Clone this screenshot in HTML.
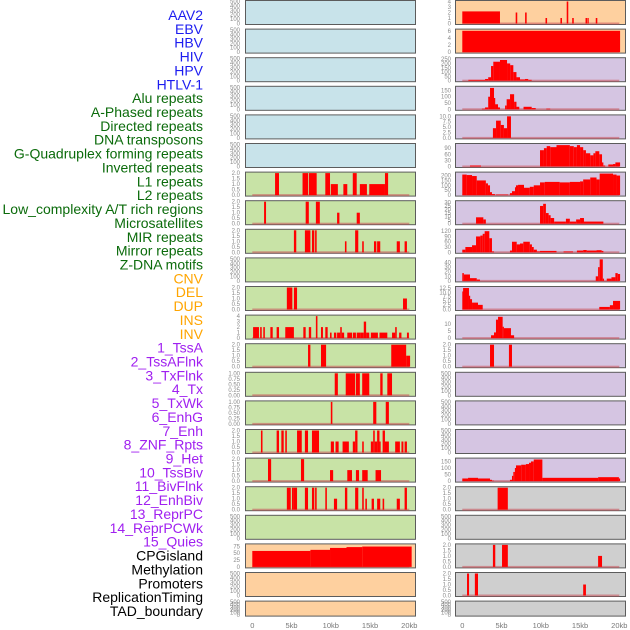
<!DOCTYPE html>
<html><head><meta charset="utf-8"><style>
html,body{margin:0;padding:0;background:#fff;}
svg{display:block;}
</style></head><body>
<svg id="chart" width="630" height="630" xmlns="http://www.w3.org/2000/svg"></svg>
<script>
const NS="http://www.w3.org/2000/svg";
const labelNames=["AAV2","EBV","HBV","HIV","HPV","HTLV-1","Alu repeats","A-Phased repeats","Directed repeats","DNA transposons","G-Quadruplex forming repeats","Inverted repeats","L1 repeats","L2 repeats","Low_complexity A/T rich regions","Microsatellites","MIR repeats","Mirror repeats","Z-DNA motifs","CNV","DEL","DUP","INS","INV","1_TssA","2_TssAFlnk","3_TxFlnk","4_Tx","5_TxWk","6_EnhG","7_Enh","8_ZNF_Rpts","9_Het","10_TssBiv","11_BivFlnk","12_EnhBiv","13_ReprPC","14_ReprPCWk","15_Quies","CPGisland","Methylation","Promoters","ReplicationTiming","TAD_boundary"];
const labelColors=["#1c1cf0","#0b6b0b","#ffa500","#a020f0","#000000"];
const labelGroups=[0,0,0,0,0,0,1,1,1,1,1,1,1,1,1,1,1,1,1,2,2,2,2,2,3,3,3,3,3,3,3,3,3,3,3,3,3,3,3,4,4,4,4,4];
const trackBg=["#c8e3ea","#c8e3a6","#fed09f","#d5c5e2","#cfcfcf"];
const trackGroups=[0,0,0,0,0,0,1,1,1,1,1,1,1,1,1,1,1,1,1,2,2,2,2,2,3,3,3,3,3,3,3,3,3,3,3,3,3,3,3,4,4,4,4,4];
const xTickValues=[0,5,10,15,20];
const xTickLabels=["0","5kb","10kb","15kb","20kb"];
const E=["0","100","200","300","400","500"], T2=["0.0","0.5","1.0","1.5","2.0"], T1=["0.00","0.25","0.50","0.75","1.00"];
const trackTicks=[E,E,E,E,E,E,T2,T2,T2,E,T2,["0","1","2","3","4"],T2,T1,T1,T2,T2,T2,E,["0","25","50","75"],E,E,
["0","1","2","3","4"],["0","2","4","6"],["0","50","100","150","200","250"],["0","50","100","150"],["0.0","2.5","5.0","7.5","10.0"],["0","30","60","90"],["0","50","100","150","200"],["0","5","10","15","20","25","30"],["0","30","60","90","120"],["0","10","20","30","40"],["0.0","2.5","5.0","7.5","10.0","12.5"],["0","5","10"],T2,E,E,E,["0","50","100","150"],T2,E,T2,T2,E];
const trackMax=[500,500,500,500,500,500,2,2,2,500,2,4,2,1,1,2,2,2,500,80,500,500,
4,6.2,255,175,10.2,108,225,31,125,48,12.8,15.5,2,500,500,500,168,2,500,2,2,500];
const trackSegs=[[],[],[],[],[],[],
[[2.9,3.4,2],[6.4,7.1,2],[7.2,8.2,2],[9.3,9.9,2],[10,10.9,1],[11.6,12.1,1],[12.8,13.3,2],[13.7,14.6,1],[14.9,16.9,1],[16.9,17.3,2]],
[[1.5,1.75,2],[6.8,7.2,2],[8.1,8.6,2],[10.8,11.1,1],[13.3,13.7,1]],
[[5.3,5.6,2],[6.7,7.4,2],[7.6,7.9,2],[8,8.2,2],[11.8,12,1],[13.1,13.5,2],[14,14.2,1],[15.5,15.8,1],[15.9,16.3,1],[18.4,18.8,1],[19.4,19.7,1]],
[],
[[4.4,5.1,2],[5.3,5.7,2],[19.2,19.7,1]],
[[0.1,0.85,2],[1,1.2,2],[1.4,1.6,2],[2.3,2.6,2],[3.1,3.4,2],[4.2,5.3,2],[6.5,6.8,2],[7.2,7.5,2],[8.1,8.3,4],[8.75,9,2],[9.3,9.6,2],[9.9,10.1,1],[10.4,10.7,1],[10.8,11.2,1],[11.2,11.4,2],[11.4,11.7,1],[12.1,12.7,1],[12.8,13.2,1],[13.3,13.8,1],[13.8,14.2,1],[14.2,14.5,3],[14.5,14.9,1],[15.1,16,1],[16.2,17.2,1],[17.8,18.2,1],[18.2,18.4,2],[18.7,19,1],[19.7,19.95,1]],
[[7.1,7.4,2],[8.75,9.4,2],[17.7,19.6,2],[19.6,20.1,1]],
[[10.5,10.9,1],[11.9,13.1,1],[13.2,13.7,1],[14,14.9,1],[16.3,16.6,1],[17.2,17.8,1]],
[[10,10.2,1],[15.4,15.8,1],[17,17.4,1]],
[[1.1,1.3,2],[3.1,3.4,2],[3.7,4,2],[4.2,4.4,2],[5.7,6.3,2],[6.7,7.1,2],[7.6,8.5,2],[10,10.4,1],[10.6,11,1],[11.5,12.3,1],[12.8,13.1,1],[13.1,13.4,2],[14,14.2,1],[15.1,15.4,1],[15.4,15.6,2],[15.6,15.9,1],[15.9,16.2,2],[16.2,16.3,1],[16.6,16.9,2],[16.9,17.4,1],[18.2,18.8,1],[19,19.25,1],[19.4,19.7,1]],
[[2,2.4,2],[6.2,6.6,2],[9.9,10.3,1],[12.1,12.7,1],[13.2,13.6,1],[14,14.7,1],[15.7,16.4,1]],
[[4.4,4.9,2],[5.05,5.3,2],[5.3,5.7,2],[6.7,7.1,2],[7.6,7.9,2],[8,8.2,2],[9.3,9.5,2],[10.4,10.8,1],[11.8,12.1,2],[13.1,13.5,2],[14,14.2,2],[14.4,14.6,1],[15.2,15.5,1],[15.9,16.3,1],[16.6,16.8,1],[18.4,18.8,1],[19.4,19.7,2]],
[],
[[0,7.4,58],[7.4,9.9,62],[9.9,12,69],[12,14,72],[14,20.3,74]],
[],[],
[[0,4.8,2.2],[6.8,7,2],[8,8.2,2],[10.6,10.8,1],[12.5,12.7,1],[13.3,13.5,4],[14,14.2,1],[15.7,15.9,1],[15.95,16.1,1],[17,17.2,1]],
[[0,20.1,6]],
[[0.77,2.9,10],[2.9,3.3,20],[3.3,3.66,40],[3.66,3.95,170],[3.95,4.8,220],[4.8,5.7,240],[5.7,6.1,200],[6.1,6.5,180],[6.5,6.9,100],[6.9,7.35,40],[7.35,7.99,15],[7.99,8.4,20],[8.4,8.84,10]],
[[2.5,2.9,5],[2.9,3.3,15],[3.3,3.53,100],[3.53,4.04,170],[4.04,4.17,90],[4.17,4.55,40],[4.55,4.8,15],[5.45,5.65,30],[5.65,6.08,80],[6.08,6.6,120],[6.6,6.9,60],[6.9,7.26,20],[7.8,8.84,20],[8.84,9.35,10],[10.7,11.2,5]],
[[3.9,4.3,4.5],[4.3,4.9,8],[4.9,5.3,6],[5.3,5.7,4.5],[5.7,6.2,10]],
[[0.98,2.38,5],[9.9,10.4,80],[10.4,10.75,90],[10.75,11.2,100],[11.2,12,95],[12,13.7,105],[13.7,14.2,100],[14.2,14.6,95],[14.6,15,105],[15,15.4,95],[15.4,15.75,80],[15.75,16.3,65],[16.3,16.7,55],[16.7,16.95,65],[16.95,17.45,75],[17.45,17.8,60],[17.8,17.97,20],[17.97,18.2,5],[18.6,19.2,10],[19.2,19.5,12],[19.5,20.1,20]],
[[0,0.56,210],[0.56,1.24,205],[1.24,1.84,195],[1.84,3,150],[3,3.27,120],[3.27,3.53,100],[3.53,3.78,30],[3.78,4.16,10],[4.29,5.82,5],[6.07,6.33,20],[6.33,6.71,40],[6.71,6.84,80],[6.84,7.1,100],[7.1,7.86,105],[7.86,8.6,75],[8.6,9.1,85],[9.1,9.9,100],[9.9,10.5,130],[10.5,12.4,135],[12.4,13.7,130],[13.7,15,135],[15,15.4,140],[15.4,16.3,160],[16.3,17.1,180],[17.1,17.5,160],[17.5,19.2,220],[19.2,19.65,210],[19.65,20.1,200]],
[[1.75,2.68,9],[2.68,3,6],[9.9,10.3,25],[10.3,10.65,28],[10.65,11,15],[11,11.25,12],[11.25,11.7,8],[11.7,13.2,3],[13.2,13.7,7],[13.7,14.5,3],[14.5,15,6],[15,15.5,8],[15.5,17.97,3]],
[[0,0.39,15],[0.39,1.24,30],[1.24,1.75,40],[1.75,2.3,90],[2.3,2.6,95],[2.6,2.85,105],[2.85,3.44,120],[3.44,3.78,80],[3.78,4.04,5],[6.07,6.33,10],[6.33,6.93,60],[6.93,7.35,45],[7.35,7.77,50],[7.77,8.6,60],[8.6,8.87,45],[8.87,9.1,30],[9.1,9.5,15],[9.5,9.9,5],[9.9,12,8],[12.9,14.1,5],[14.6,15.4,10],[15.4,15.85,13],[15.85,17.1,10],[17.1,17.75,12],[17.75,17.97,8]],
[[0,0.2,17],[0.2,0.98,14],[0.98,1.84,6],[1.84,2.25,3],[17,17.3,10],[17.3,17.5,30],[17.5,17.9,47],[17.9,18.05,5],[18.4,19,5],[19,19.5,8],[19.5,19.8,17],[19.8,20.1,15]],
[[0,0.1,10.5],[0.1,0.85,12.5],[0.85,0.98,8],[0.98,1.24,6],[1.24,2,4],[2,2.6,2.7],[17.45,18.8,1.5],[18.8,19.2,2.5],[19.2,20.1,5]],
[[3.66,4.04,2],[4.04,4.29,4],[4.29,4.55,13],[4.55,5.14,15],[5.14,5.3,8],[5.3,6.2,7],[6.2,6.6,2]],
[[3.53,4.04,2],[5.94,6.33,2]],
[],[],[],
[[0,0.73,20],[0.73,2,25],[2,3.53,20],[3.53,3.78,10],[3.78,4.04,3],[6.07,6.33,10],[6.33,6.5,40],[6.5,6.7,70],[6.7,6.84,100],[6.84,7.5,120],[7.5,8.1,125],[8.1,8.5,130],[8.5,8.75,140],[8.75,9.1,150],[9.1,10.2,165],[10.2,17.3,25],[17.3,19.95,30],[19.95,20.1,20]],
[[4.5,5.8,2]],
[],
[[3.9,4.2,2],[5.06,5.8,2],[17.3,17.8,1]],
[[0.6,0.86,2],[1.6,2,2],[15.4,15.75,1]],
[]];

const svg=document.getElementById("chart");
function mk(tag,attrs,parent){const e=document.createElementNS(NS,tag);for(const k in attrs)e.setAttribute(k,attrs[k]);(parent||svg).appendChild(e);return e;}

// labels
labelNames.forEach((n,i)=>{
  const t=mk("text",{x:203,y:20+i*13.86,"text-anchor":"end","font-family":"Liberation Sans, sans-serif","font-size":"14",fill:labelColors[labelGroups[i]]});
  
  
  t.textContent=n;
});

const cols=[{px0:245,px1:416,x0:252.3,x1:409.3,tickX:240},{px0:455,px1:626,x0:462.3,x1:619.3,tickX:451}];
function xScale(c,kb){return c.x0+(c.x1-c.x0)*kb/20;}
for(let k=0;k<44;k++){
  const col=cols[k<22?0:1], row=k%22;
  const top=row*28.6, H=row===21?16:25;
  const g=mk("g",{});
  
  
  const r=mk("rect",{x:col.px0+0.5,y:top+0.5,width:col.px1-col.px0-1,height:H-1,fill:trackBg[trackGroups[k]],stroke:"#5c5c5c","stroke-width":"1"},g);
  
  
  const ymax=trackMax[k];
  const yS=v=>top+H-1.5-(v/ymax)*(H-3);
  const segs=trackSegs[k];
  if(segs.length){
    const bl=mk("rect",{x:xScale(col,0),y:yS(0)-1,width:xScale(col,20)-xScale(col,0),height:2,fill:"#c8505a","fill-opacity":"0.55"},g);
    
    
  }
  segs.forEach(s=>{
    const xa=xScale(col,s[0]), xb=xScale(col,s[1]);
    const b=mk("rect",{x:xa,y:yS(s[2]),width:Math.max(1.2,xb-xa),height:yS(0)-yS(s[2]),fill:"#ff0000"},g);
    
    
  });
  trackTicks[k].forEach(lbl=>{
    const v=parseFloat(lbl);
    const t=mk("text",{x:col.tickX,y:yS(v)+2,"text-anchor":"end","font-family":"Liberation Sans, sans-serif","font-size":"6",fill:"#8a8a8a"},g);
    
    
    t.textContent=lbl;
  });
}
cols.forEach((col,ci)=>{
  xTickValues.forEach((v,i)=>{
    const t=mk("text",{x:xScale(col,v),y:628,"text-anchor":"middle","font-family":"Liberation Sans, sans-serif","font-size":"7.5",fill:"#777"});
    
    
    t.textContent=xTickLabels[i];
  });
});
</script>
</body></html>
